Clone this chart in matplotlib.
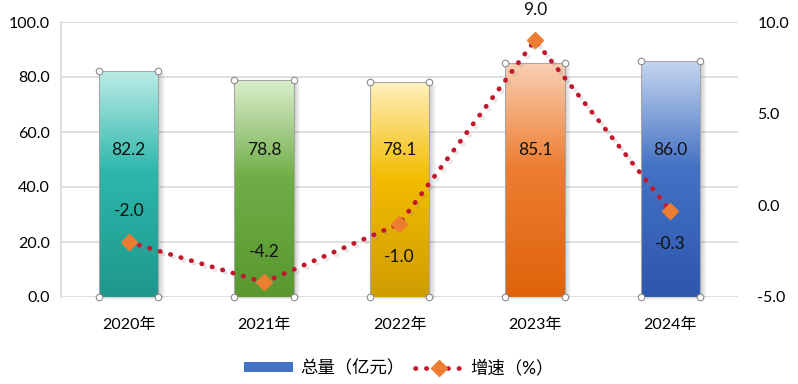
import numpy as np
import matplotlib
matplotlib.use("Agg")
import matplotlib.pyplot as plt
from matplotlib.colors import LinearSegmentedColormap
from matplotlib.lines import Line2D
from matplotlib.patches import Patch
import matplotlib.patheffects as pe
from matplotlib.transforms import offset_copy

plt.rcParams['font.family'] = ['Lato', 'Noto Sans CJK SC', 'DejaVu Sans']

categories = ["2020年", "2021年", "2022年", "2023年", "2024年"]
totals = [82.2, 78.8, 78.1, 85.1, 86.0]
growth = [-2.0, -4.2, -1.0, 9.0, -0.3]
growth_label_above = [True, True, False, True, False]
left_ticks = [0, 20, 40, 60, 80, 100]
right_ticks = [-5, 0, 5, 10]
legend_labels = ["总量（亿元）", "增速（%）"]

# (bottom, middle, top) gradient colours per bar
bar_grads = [("#1E978D", "#2DB7AB", "#BDECE7"),
             ("#58982E", "#70AD47", "#DBEECC"),
             ("#CF9C00", "#F2BC00", "#FFF0BE"),
             ("#DF630B", "#ED7D31", "#F9D0B4"),
             ("#2D56AE", "#4472C4", "#C6D6F1")]

fig = plt.figure(figsize=(7.98, 3.84), dpi=100)
ax = fig.add_axes([61/798, 1-297/384, (738-61)/798, 275/384])
x = np.arange(len(categories))
ax.set_xlim(-0.5, len(categories) - 0.5)
ax.set_ylim(0, 100)
ax.set_yticks(left_ticks)
ax.set_yticklabels([f"{v:.1f}" for v in left_ticks], fontsize=11.5)
ax.set_xticks(x)
ax.set_xticklabels(categories, fontsize=11.5)
ax.grid(axis='y', color='#D9D9D9', linewidth=1.2, zorder=0)
ax.set_axisbelow(True)
for s in ['top', 'right', 'bottom']:
    ax.spines[s].set_visible(False)
ax.spines['left'].set_color('#D9D9D9')
ax.spines['left'].set_linewidth(1.2)
ax.tick_params(axis='x', length=0, pad=15)
ax.tick_params(axis='y', length=0, pad=8)

bars = ax.bar(x, totals, width=0.44, color='none', zorder=2)
for b, (bot, mid, top), v in zip(bars, bar_grads, totals):
    x0, w, h = b.get_x(), b.get_width(), b.get_height()
    # soft shadow
    for i in range(1, 8):
        tr = offset_copy(ax.transData, fig=fig, x=i * 0.9, y=-i * 0.35, units='dots')
        ax.add_patch(plt.Rectangle((x0, 0), w, h, transform=tr, facecolor='#555555',
                                   edgecolor='none', alpha=0.045, zorder=1.5, clip_on=False))
    cmap = LinearSegmentedColormap.from_list("g", [(0, bot), (0.55, mid), (1, top)])
    grad = np.linspace(0, 1, 256).reshape(-1, 1)
    im = ax.imshow(grad, cmap=cmap, extent=[x0, x0 + w, 0, h], origin='lower',
                   aspect='auto', zorder=3)
    im.set_clip_path(b)
    ax.add_patch(plt.Rectangle((x0, 0), w, h, fill=False, edgecolor='#A6A6A6', lw=0.8, zorder=4))
    ax.scatter([x0, x0 + w, x0, x0 + w], [0, 0, h, h], s=22, facecolor='white',
               edgecolor='#8C8C8C', linewidths=0.8, zorder=5, clip_on=False)
    ax.text(x0 + w / 2, 53.5, f"{v:.1f}", ha='center', va='center',
            fontsize=12.5, color='#111111', zorder=6)
ax.set_xlim(-0.5, len(categories) - 0.5)
ax.set_ylim(0, 100)

ax2 = ax.twinx()
ax2.set_ylim(-5, 10)
ax2.set_yticks(right_ticks)
ax2.set_yticklabels([f"{v:.1f}" for v in right_ticks], fontsize=11.5)
ax2.tick_params(axis='y', length=0, pad=14)
for s in ['top', 'right', 'bottom', 'left']:
    ax2.spines[s].set_visible(False)
ax2.plot(x, growth, linestyle=(0, (0.1, 2.2)), color='#C0192F', linewidth=3.4,
         dash_capstyle='round', zorder=7,
         path_effects=[pe.SimpleLineShadow(offset=(2, -2), shadow_color='#888888', alpha=0.2), pe.Normal()])
ax2.plot(x, growth, linestyle='none', marker='D', markersize=8, color='#ED7D31', zorder=8)
for xi, g, above in zip(x, growth, growth_label_above):
    ax2.annotate(f"{g:.1f}", (xi, g), xytext=(0, 22 if above else -24), textcoords='offset points',
                 ha='center', va='center', fontsize=12.5, color='#111111', zorder=9)

handles = [Patch(facecolor='#4472C4', edgecolor='none'),
           Line2D([0], [0], linestyle=(0, (0.1, 2.2)), color='#C0192F', linewidth=3.4,
                  dash_capstyle='round', marker='D', markersize=8,
                  markerfacecolor='#ED7D31', markeredgecolor='#ED7D31')]
fig.legend(handles, legend_labels, loc='center', bbox_to_anchor=(0.5, 1-368/384), ncol=2,
           frameon=False, fontsize=12.5, handlelength=2.8, handleheight=0.5,
           columnspacing=0.6, handletextpad=0.4)

fig.savefig("out.png", dpi=100)
